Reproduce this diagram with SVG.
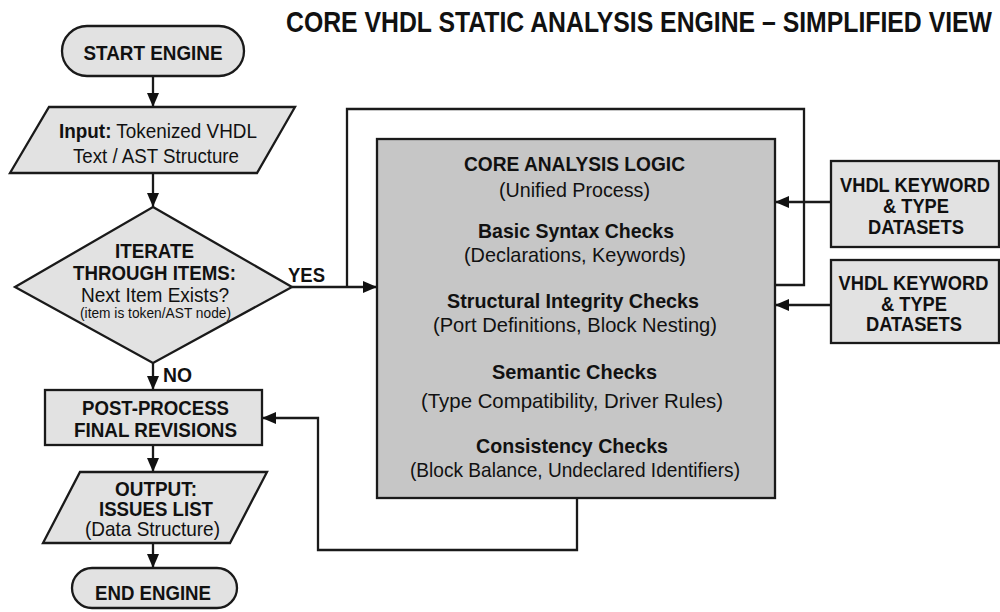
<svg xmlns="http://www.w3.org/2000/svg" width="1000" height="612" viewBox="0 0 1000 612">
<style>
.sh{fill:#e2e2e2;stroke:#1a1a1a;stroke-width:2.3}
.core{fill:#c6c6c6;stroke:#1a1a1a;stroke-width:2.3}
.ln{fill:none;stroke:#1a1a1a;stroke-width:2.3}
text{font-family:"Liberation Sans",Arial,sans-serif;fill:#111;text-anchor:middle;font-size:21px}
.b{font-weight:bold}
.t{font-weight:bold;font-size:30px;text-anchor:start}
.s{font-size:14px}
.l{text-anchor:start;font-weight:bold;font-size:21px}
</style>
<defs>
<marker id="ah" viewBox="0 0 14 12" refX="14" refY="6" markerWidth="14" markerHeight="12" orient="auto" markerUnits="userSpaceOnUse"><path d="M0,0 L14,6 L0,12 Z" fill="#111"/></marker>
</defs>
<rect width="1000" height="612" fill="#fff"/>
<text class="t" x="286" y="32" textLength="706" lengthAdjust="spacingAndGlyphs">CORE VHDL STATIC ANALYSIS ENGINE – SIMPLIFIED VIEW</text>

<g id="connectors">
<path class="ln" d="M153,76 V107" marker-end="url(#ah)"/>
<path class="ln" d="M153,173 V207" marker-end="url(#ah)"/>
<path class="ln" d="M292,287 H377" marker-end="url(#ah)"/>
<path class="ln" d="M775,285 H804 V109 H347 V287"/>
<path class="ln" d="M153,363 V390" marker-end="url(#ah)"/>
<path class="ln" d="M577,498 V550 H318 V418 H262" marker-end="url(#ah)"/>
<path class="ln" d="M153,445 V472" marker-end="url(#ah)"/>
<path class="ln" d="M153,543 V568" marker-end="url(#ah)"/>
<path class="ln" d="M831,202 H775" marker-end="url(#ah)"/>
<path class="ln" d="M831,305 H775" marker-end="url(#ah)"/>
<text class="l" x="288" y="282" textLength="37" lengthAdjust="spacingAndGlyphs">YES</text>
<text class="l" x="163" y="382" textLength="29" lengthAdjust="spacingAndGlyphs">NO</text>
</g>

<g id="start">
<rect class="sh" x="62" y="26" width="182" height="50" rx="25"/>
<text class="b" x="153" y="60" textLength="139" lengthAdjust="spacingAndGlyphs">START ENGINE</text>
</g>

<g id="input">
<path class="sh" d="M49,107 H295 L257,173 H10 Z"/>
<text x="158" y="138" textLength="198" lengthAdjust="spacingAndGlyphs"><tspan class="b">Input:</tspan> Tokenized VHDL</text>
<text x="156" y="163" textLength="166" lengthAdjust="spacingAndGlyphs">Text / AST Structure</text>
</g>

<g id="iterate">
<path class="sh" d="M153,207 L292,287 L153,363 L15,287 Z"/>
<text class="b" x="154.5" y="258" textLength="79" lengthAdjust="spacingAndGlyphs">ITERATE</text>
<text class="b" x="154.5" y="280" textLength="163" lengthAdjust="spacingAndGlyphs">THROUGH ITEMS:</text>
<text x="155" y="302" textLength="148" lengthAdjust="spacingAndGlyphs">Next Item Exists?</text>
<text class="s" x="155.5" y="318" textLength="151" lengthAdjust="spacingAndGlyphs">(item is token/AST node)</text>
</g>

<g id="postprocess">
<rect class="sh" x="45" y="390" width="217" height="55"/>
<text class="b" x="155.5" y="415" textLength="147" lengthAdjust="spacingAndGlyphs">POST-PROCESS</text>
<text class="b" x="155.5" y="437" textLength="163" lengthAdjust="spacingAndGlyphs">FINAL REVISIONS</text>
</g>

<g id="output">
<path class="sh" d="M80,472 H267 L230,543 H43 Z"/>
<text class="b" x="156" y="496" textLength="82" lengthAdjust="spacingAndGlyphs">OUTPUT:</text>
<text class="b" x="156" y="516" textLength="114" lengthAdjust="spacingAndGlyphs">ISSUES LIST</text>
<text x="152.5" y="536" textLength="135" lengthAdjust="spacingAndGlyphs">(Data Structure)</text>
</g>

<g id="end">
<rect class="sh" x="72" y="568" width="165" height="40" rx="20"/>
<text class="b" x="153" y="600" textLength="116" lengthAdjust="spacingAndGlyphs">END ENGINE</text>
</g>

<g id="core">
<rect class="core" x="377" y="139" width="398" height="359"/>
<text class="b" x="574.5" y="171" textLength="221" lengthAdjust="spacingAndGlyphs">CORE ANALYSIS LOGIC</text>
<text x="574.5" y="197" textLength="151" lengthAdjust="spacingAndGlyphs">(Unified Process)</text>
<text class="b" x="576" y="238" textLength="196" lengthAdjust="spacingAndGlyphs">Basic Syntax Checks</text>
<text x="575" y="262" textLength="222" lengthAdjust="spacingAndGlyphs">(Declarations, Keywords)</text>
<text class="b" x="573" y="308" textLength="252" lengthAdjust="spacingAndGlyphs">Structural Integrity Checks</text>
<text x="575" y="332" textLength="284" lengthAdjust="spacingAndGlyphs">(Port Definitions, Block Nesting)</text>
<text class="b" x="574.5" y="379" textLength="165" lengthAdjust="spacingAndGlyphs">Semantic Checks</text>
<text x="572" y="408" textLength="302" lengthAdjust="spacingAndGlyphs">(Type Compatibility, Driver Rules)</text>
<text class="b" x="572" y="453" textLength="192" lengthAdjust="spacingAndGlyphs">Consistency Checks</text>
<text x="575" y="477" textLength="330" lengthAdjust="spacingAndGlyphs">(Block Balance, Undeclared Identifiers)</text>
</g>

<g id="datasets1">
<rect class="sh" x="831" y="161" width="168" height="86"/>
<text class="b" x="915" y="192" textLength="150" lengthAdjust="spacingAndGlyphs">VHDL KEYWORD</text>
<text class="b" x="916" y="213" textLength="66" lengthAdjust="spacingAndGlyphs">&amp; TYPE</text>
<text class="b" x="916" y="234" textLength="96" lengthAdjust="spacingAndGlyphs">DATASETS</text>
</g>

<g id="datasets2">
<rect class="sh" x="831" y="260" width="168" height="83"/>
<text class="b" x="913.5" y="290" textLength="150" lengthAdjust="spacingAndGlyphs">VHDL KEYWORD</text>
<text class="b" x="914" y="311" textLength="66" lengthAdjust="spacingAndGlyphs">&amp; TYPE</text>
<text class="b" x="914" y="331" textLength="96" lengthAdjust="spacingAndGlyphs">DATASETS</text>
</g>
</svg>
